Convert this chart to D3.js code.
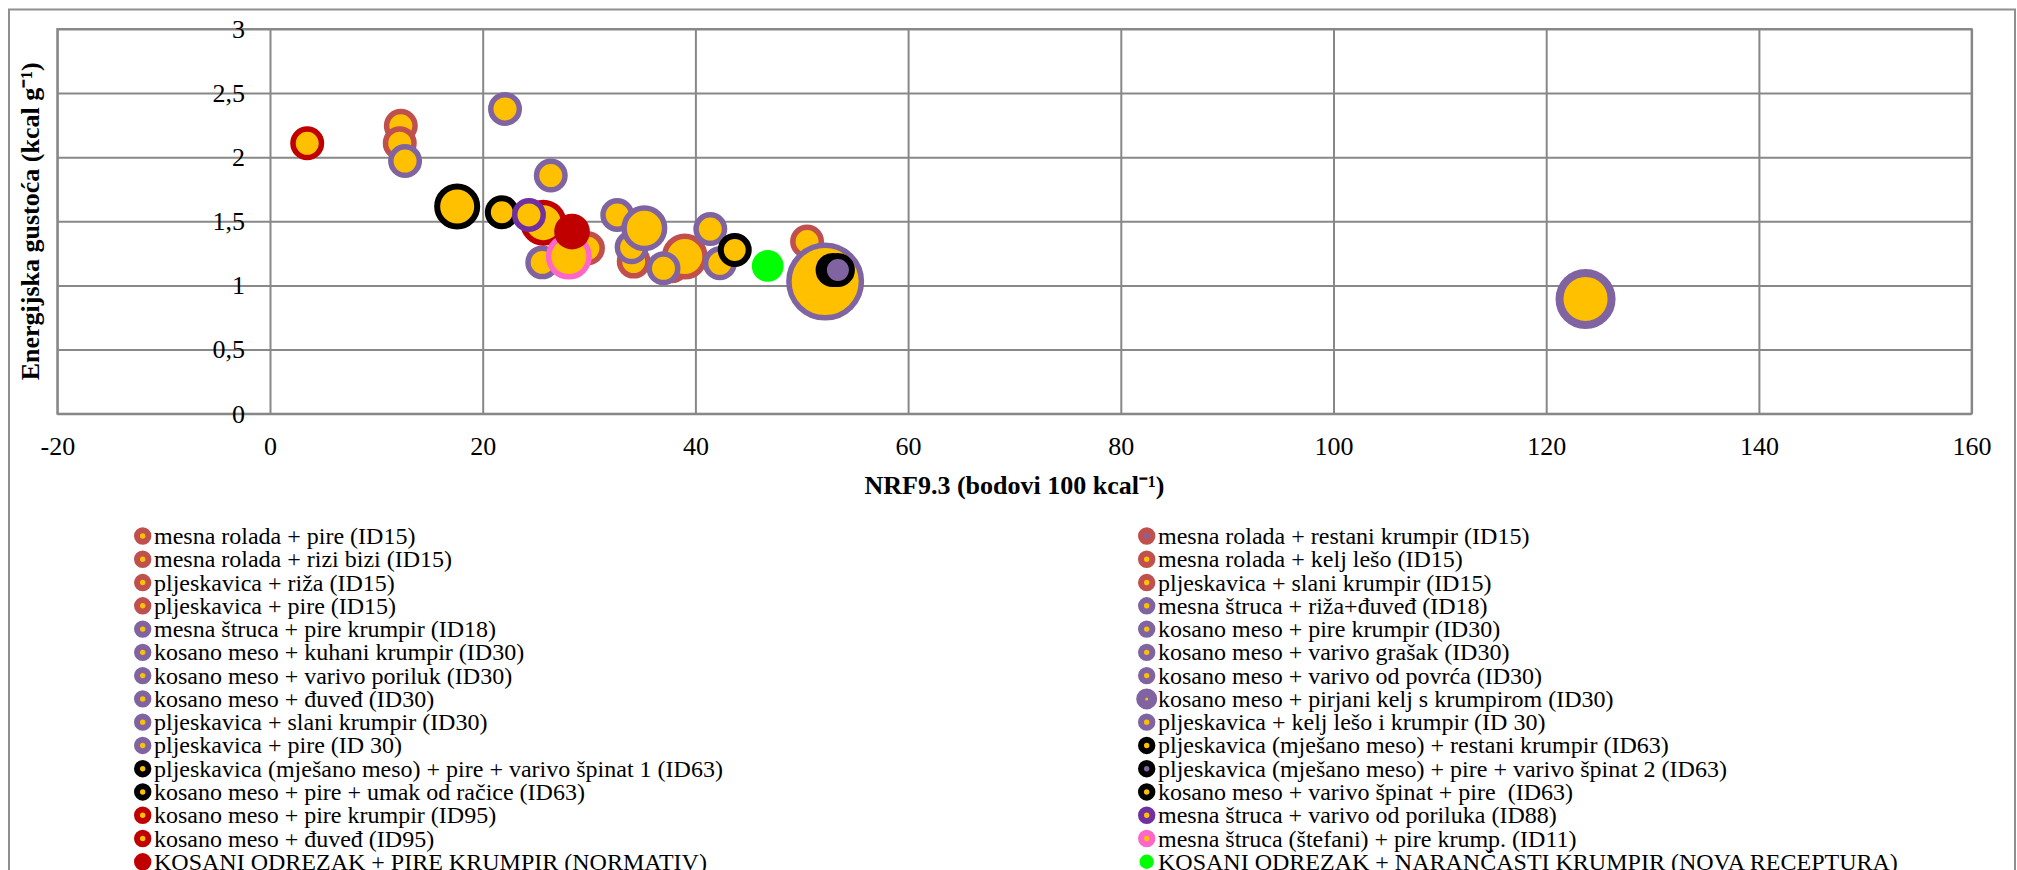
<!DOCTYPE html>
<html>
<head>
<meta charset="utf-8">
<script src="https://cdn.jsdelivr.net/npm/d3@7/dist/d3.min.js"></script>
<style>
  body { margin: 0; background: #fff; }
  svg { display: block; }
</style>
</head>
<body>
<div id="chart"></div>
<script>
// series names, in legend order (row by row: left, right)
const seriesNames = [
  "mesna rolada + pire (ID15)",
  "mesna rolada + restani krumpir (ID15)",
  "mesna rolada + rizi bizi (ID15)",
  "mesna rolada + kelj lešo (ID15)",
  "pljeskavica + riža (ID15)",
  "pljeskavica + slani krumpir (ID15)",
  "pljeskavica + pire (ID15)",
  "mesna štruca + riža+đuveđ (ID18)",
  "mesna štruca + pire krumpir (ID18)",
  "kosano meso + pire krumpir (ID30)",
  "kosano meso + kuhani krumpir (ID30)",
  "kosano meso + varivo grašak (ID30)",
  "kosano meso + varivo poriluk (ID30)",
  "kosano meso + varivo od povrća (ID30)",
  "kosano meso + đuveđ (ID30)",
  "kosano meso + pirjani kelj s krumpirom (ID30)",
  "pljeskavica + slani krumpir (ID30)",
  "pljeskavica + kelj lešo i krumpir (ID 30)",
  "pljeskavica + pire (ID 30)",
  "pljeskavica (mješano meso) + restani krumpir (ID63)",
  "pljeskavica (mješano meso) + pire + varivo špinat 1 (ID63)",
  "pljeskavica (mješano meso) + pire + varivo špinat 2 (ID63)",
  "kosano meso + pire + umak od račice (ID63)",
  "kosano meso + varivo špinat + pire  (ID63)",
  "kosano meso + pire krumpir (ID95)",
  "mesna štruca + varivo od poriluka (ID88)",
  "kosano meso + đuveđ (ID95)",
  "mesna štruca (štefani) + pire krump. (ID11)",
  "KOSANI ODREZAK + PIRE KRUMPIR (NORMATIV)",
  "KOSANI ODREZAK + NARANČASTI KRUMPIR (NOVA RECEPTURA)"
];

// NRF9.3 (x), energy density (y), bubble size
const nrfValues = [12.3, 37.8, 12.2, 29.9, 34.2, 39.0, 50.5, 22.1, 12.7, 26.4,
                   25.6, 32.65, 34.0, 35.2, 37.0, 123.7, 41.4, 52.2, 42.3, 52.9,
                   17.6, 53.4, 21.8, 43.7, 25.7, 24.35, 3.5, 28.1, 28.4, 46.8];
const energyValues = [2.245, 1.15, 2.11, 1.29, 1.186, 1.225, 1.342, 2.377, 1.97, 1.857,
                      1.18, 1.55, 1.298, 1.446, 1.134, 0.895, 1.44, 1.03, 1.173, 1.12,
                      1.615, 1.12, 1.571, 1.277, 1.49, 1.55, 2.109, 1.225, 1.42, 1.152];
const bubbleSizes = [48, 48, 48, 48, 48, 88, 48, 48, 48, 48,
                     48, 48, 48, 88, 48, 150, 48, 253, 48, 48,
                     88, 48, 48, 48, 88, 48, 48, 88, 53, 42];

const xTicks = [-20, 0, 20, 40, 60, 80, 100, 120, 140, 160];
const yTicks = [0, 0.5, 1, 1.5, 2, 2.5, 3];
const yTickLabels = ["0", "0,5", "1", "1,5", "2", "2,5", "3"];

// styles (kept apart from the data)
const RB = "#C0504D", PU = "#8064A2", BK = "#000000", DR = "#C00000",
      DP = "#7030A0", PK = "#FF66CC", GR = "#00FF00", OR = "#FFC000";
const styleOf = i => {
  const groups = [RB,RB,RB,RB,RB,RB,RB, PU,PU,PU,PU,PU,PU,PU,PU,PU,PU,PU,PU,
                  BK,BK,BK,BK,BK, DR,DP,DR,PK, DR,GR];
  const line = groups[i];
  if (i === 28 || i === 29) return {line: null, fill: line, sw: 0};
  const fill = (i === 1 || i === 21) ? PU : OR;
  let sw = line === BK ? 6 : 5.5;
  if (i === 15) sw = 8;
  return {line, fill, sw};
};

const W = 2017, H = 870;
const font = "'Liberation Serif', 'Times New Roman', serif";

const svg = d3.select("#chart").append("svg")
  .attr("width", W).attr("height", H);

// outer chart border
svg.append("rect")
  .attr("x", 9).attr("y", 9.5)
  .attr("width", 2006).attr("height", 900)
  .attr("fill", "#fff")
  .attr("stroke", "#8f8f8f").attr("stroke-width", 2);

const x = d3.scaleLinear().domain([-20, 160]).range([57.3, 1971.6]);
const y = d3.scaleLinear().domain([0, 3]).range([413.7, 29]);
const r = d3.scaleSqrt().domain([0, 253]).range([0, 39]);

const grid = svg.append("g");
// vertical grid
grid.append("g")
  .attr("transform", `translate(0,${y(0)})`)
  .call(d3.axisBottom(x).tickValues(xTicks).tickSize(-(y(0) - y(3))).tickFormat(""))
  .call(g => g.select(".domain").remove());
// horizontal grid
grid.append("g")
  .attr("transform", `translate(${x(-20)},0)`)
  .call(d3.axisLeft(y).tickValues(yTicks).tickSize(-(x(160) - x(-20))).tickFormat(""))
  .call(g => g.select(".domain").remove());
grid.selectAll("line").attr("stroke", "#888").attr("stroke-width", 2);
grid.append("rect")
  .attr("x", x(-20)).attr("y", y(3))
  .attr("width", x(160) - x(-20)).attr("height", y(0) - y(3))
  .attr("fill", "none").attr("stroke", "#888").attr("stroke-width", 2);

// tick labels
const xAxis = svg.append("g")
  .attr("transform", `translate(0,${y(0)})`)
  .call(d3.axisBottom(x).tickValues(xTicks).tickSize(0).tickPadding(23).tickFormat(d => String(d)));
const yAxis = svg.append("g")
  .attr("transform", `translate(${x(0)},0)`)
  .call(d3.axisLeft(y).tickValues(yTicks).tickSize(0).tickPadding(25)
    .tickFormat((d, i) => yTickLabels[i]));
[xAxis, yAxis].forEach(a => {
  a.select(".domain").remove();
  a.selectAll("text").attr("font-family", font).attr("font-size", 26).attr("fill", "#000");
});

// axis titles
svg.append("text")
  .attr("x", (x(-20) + x(160)) / 2).attr("y", 494)
  .attr("text-anchor", "middle")
  .attr("font-family", font).attr("font-size", 26).attr("font-weight", "bold")
  .text("NRF9.3 (bodovi 100 kcal⁻¹)");
svg.append("text")
  .attr("transform", `translate(39,${(y(0) + y(3)) / 2}) rotate(-90)`)
  .attr("text-anchor", "middle")
  .attr("font-family", font).attr("font-size", 26).attr("font-weight", "bold")
  .text("Energijska gustoća (kcal g⁻¹)");

// bubbles
const points = seriesNames.map((name, i) => ({
  name, i, nrf: nrfValues[i], ed: energyValues[i], size: bubbleSizes[i], st: styleOf(i)
}));

svg.append("g").selectAll("circle")
  .data(points)
  .join("circle")
  .attr("cx", d => x(d.nrf))
  .attr("cy", d => y(d.ed))
  .attr("r", d => r(d.size) - d.st.sw / 2)
  .attr("fill", d => d.st.fill)
  .attr("stroke", d => d.st.line || "none")
  .attr("stroke-width", d => d.st.sw);

// legend, two columns filled row by row
const legend = svg.append("g");
const rowH = 23.27;
const item = legend.selectAll("g")
  .data(points)
  .join("g")
  .attr("transform", d => `translate(${d.i % 2 === 0 ? 142.7 : 1146.7},${536 + Math.floor(d.i / 2) * rowH})`);

item.append("circle")
  .attr("r", d => d.st.line ? (d.i === 15 ? 6 : 5.7) : (d.i === 29 ? 7.2 : 8.7))
  .attr("fill", d => d.st.fill)
  .attr("stroke", d => d.st.line || "none")
  .attr("stroke-width", d => d.st.line ? (d.i === 15 ? 9 : 6) : 0);

item.append("text")
  .attr("x", 11.3)
  .attr("y", 8)
  .attr("font-family", font).attr("font-size", 24)
  .style("white-space", "pre")
  .text(d => d.name);
</script>
</body>
</html>
